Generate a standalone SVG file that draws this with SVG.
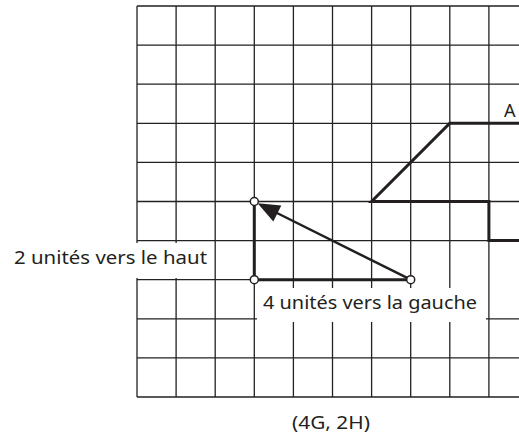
<svg xmlns="http://www.w3.org/2000/svg" width="519" height="435" viewBox="0 0 519 435">
<style>
.g{stroke:#222;stroke-width:1.3;fill:none}
.t{stroke:#231f20;stroke-width:3;fill:none;stroke-linejoin:miter}
.pt{fill:#fff;stroke:#231f20;stroke-width:1.5}
.lbl{font-family:"Noto Sans","Open Sans",sans-serif;font-size:18px;fill:#231f20}
</style>
<rect width="519" height="435" fill="#fff"/>
<g id="grid" class="g">
<path d="M137,6V397M176.1,6V397M215.2,6V397M254.3,6V397M293.4,6V397M332.5,6V397M371.6,6V397M410.7,6V397M449.8,6V397M488.9,6V397"/>
<path d="M137,6H519M137,45.1H519M137,84.2H519M137,123.3H519M137,162.4H519M137,201.5H519M137,240.6H519M137,279.7H410.7M137,318.8H519M137,357.9H519M137,397H519"/>
</g>
<g id="shapeA">
<path class="t" d="M519,123.3H449.8L371.6,201.5H488.9V240.6H519"/>
<text class="lbl" x="504" y="117" font-size="17">A</text>
</g>
<g id="label-up">
<rect x="0" y="243" width="212" height="35" fill="#fff"/>
<text class="lbl" x="14" y="264" textLength="193" lengthAdjust="spacingAndGlyphs">2 unités vers le haut</text>
</g>
<g id="label-left">
<rect x="257" y="288" width="229" height="34" fill="#fff"/>
<text class="lbl" x="263" y="309" textLength="214" lengthAdjust="spacingAndGlyphs">4 unités vers la gauche</text>
</g>
<g id="connectors">
<path class="t" d="M254.3,201.5V279.7H410.7"/>
<line x1="410.7" y1="279.7" x2="275" y2="212" stroke="#231f20" stroke-width="2.5"/>
<polygon points="257.6,203.3 281.3,205.4 273.3,221.4" fill="#231f20"/>
</g>
<g id="points">
<circle class="pt" cx="254.3" cy="201.5" r="4"/>
<circle class="pt" cx="254.3" cy="279.7" r="4"/>
<circle class="pt" cx="410.7" cy="279.7" r="4"/>
</g>
<g id="caption">
<text class="lbl" x="292" y="429" textLength="78" lengthAdjust="spacingAndGlyphs">(4G, 2H)</text>
</g>
</svg>
